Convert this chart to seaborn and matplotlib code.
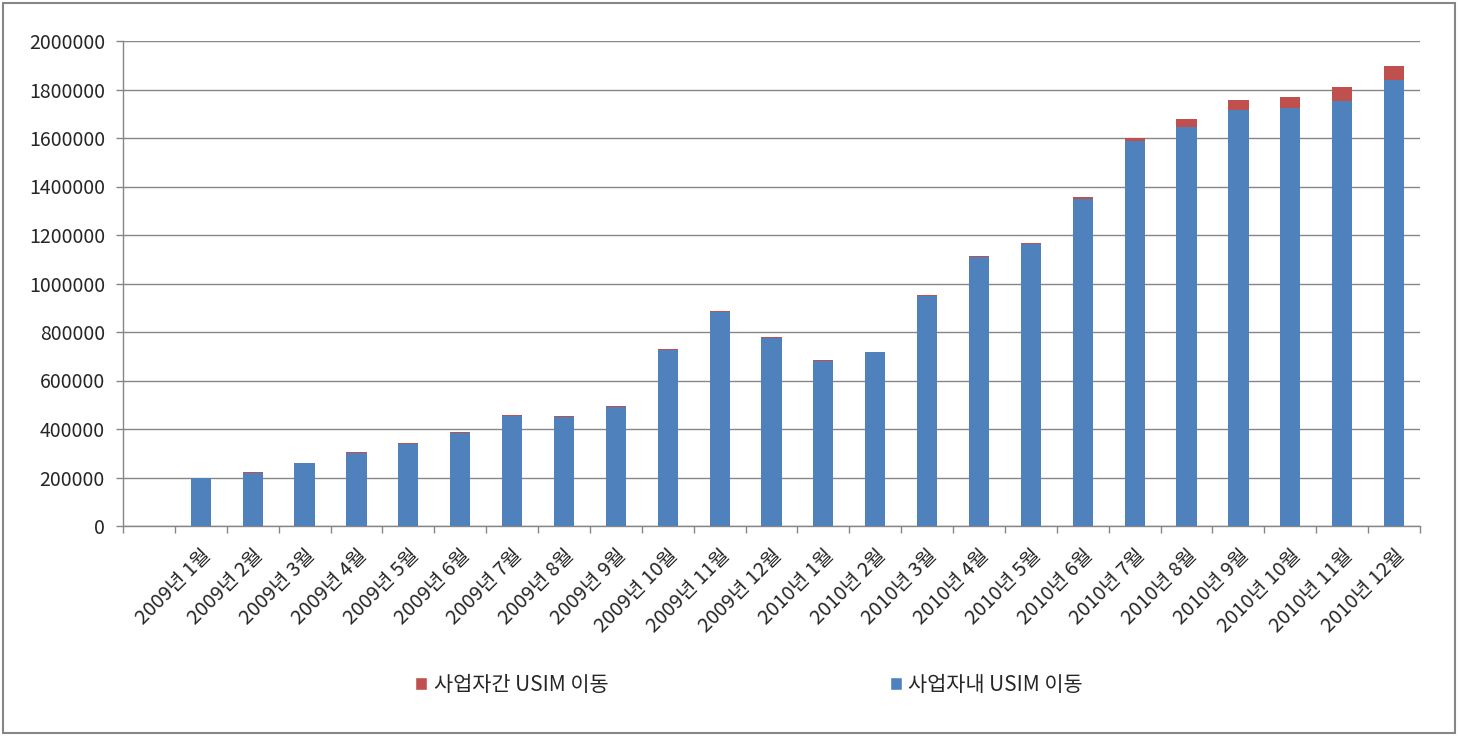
import matplotlib
matplotlib.use("Agg")
import matplotlib.pyplot as plt
from matplotlib.patches import Rectangle, Patch
import seaborn as sns
import pandas as pd
import numpy as np

months = ["", "2009년 1월", "2009년 2월", "2009년 3월", "2009년 4월", "2009년 5월", "2009년 6월",
          "2009년 7월", "2009년 8월", "2009년 9월", "2009년 10월", "2009년 11월", "2009년 12월",
          "2010년 1월", "2010년 2월", "2010년 3월", "2010년 4월", "2010년 5월", "2010년 6월",
          "2010년 7월", "2010년 8월", "2010년 9월", "2010년 10월", "2010년 11월", "2010년 12월"]

within_usim = [0, 197000, 220000, 258000, 303000, 340000, 385000, 455000, 450000, 492000,
               726000, 884000, 776000, 682000, 716000, 950000, 1110000, 1163000, 1348000,
               1588000, 1645000, 1716000, 1722000, 1754000, 1839000]
between_usim = [0, 2000, 2000, 2000, 3000, 3000, 3000, 3000, 3000, 3000,
                3000, 3000, 3000, 3000, 3000, 4000, 4000, 4000, 9000,
                12000, 32000, 41000, 47000, 56000, 59000]

label_between = "사업자간 USIM 이동"
label_within = "사업자내 USIM 이동"
yticks = [0, 200000, 400000, 600000, 800000, 1000000, 1200000, 1400000, 1600000, 1800000, 2000000]

BLUE = "#4F81BD"
RED = "#C0504D"
GRID = "#868686"

sns.set_theme(style="white")
plt.rcParams['font.family'] = ['Noto Sans CJK KR', 'DejaVu Sans']

df = pd.DataFrame({
    "month": months,
    "within": within_usim,
    "total": np.array(within_usim) + np.array(between_usim),
})

fig = plt.figure(figsize=(14.58, 7.36), dpi=100)
ax = fig.add_axes([123 / 1458, 1 - 526 / 736, (1420 - 123) / 1458, (526 - 41) / 736])

sns.barplot(data=df, x="month", y="total", order=months, color=RED, width=0.39,
            saturation=1, ax=ax, zorder=3, linewidth=0, edgecolor="none")
sns.barplot(data=df, x="month", y="within", order=months, color=BLUE, width=0.39,
            saturation=1, ax=ax, zorder=4, linewidth=0, edgecolor="none")

ax.set_xlim(-0.5, len(months) - 0.5)
ax.set_ylim(0, 2000000)
ax.set_yticks(yticks)
ax.set_yticklabels([str(v) for v in yticks], fontsize=14)
ax.yaxis.grid(True, color=GRID, linewidth=1)
ax.set_axisbelow(True)
ax.set_xlabel("")
ax.set_ylabel("")

ax.set_xticks(range(len(months)))
ax.set_xticklabels(months, rotation=45, ha="right", rotation_mode="anchor", fontsize=14.5)
ax.tick_params(axis="x", which="major", length=0, pad=14)
ax.set_xticks(np.arange(-0.5, len(months), 1), minor=True)
ax.tick_params(axis="x", which="minor", length=5, color=GRID, width=1, direction="out", bottom=True)
ax.tick_params(axis="y", length=5, color=GRID, width=1, direction="out", left=True, pad=8)

for s in ["top", "right"]:
    ax.spines[s].set_visible(False)
for s in ["left", "bottom"]:
    ax.spines[s].set_color(GRID)
    ax.spines[s].set_linewidth(1)

handles = [Patch(facecolor=RED, label=label_between), Patch(facecolor=BLUE, label=label_within)]
fig.legend(handles=handles, loc="center", bbox_to_anchor=(749 / 1458, 1 - 685 / 736), ncol=2,
           frameon=False, fontsize=15, handlelength=0.6, handleheight=0.6, handletextpad=0.3,
           columnspacing=13.5)

fig.patches.append(Rectangle((3 / 1458, 3 / 736), 1452 / 1458, 730 / 736, transform=fig.transFigure,
                             fill=False, edgecolor=GRID, linewidth=1.5))

fig.savefig("out.png", dpi=100)
